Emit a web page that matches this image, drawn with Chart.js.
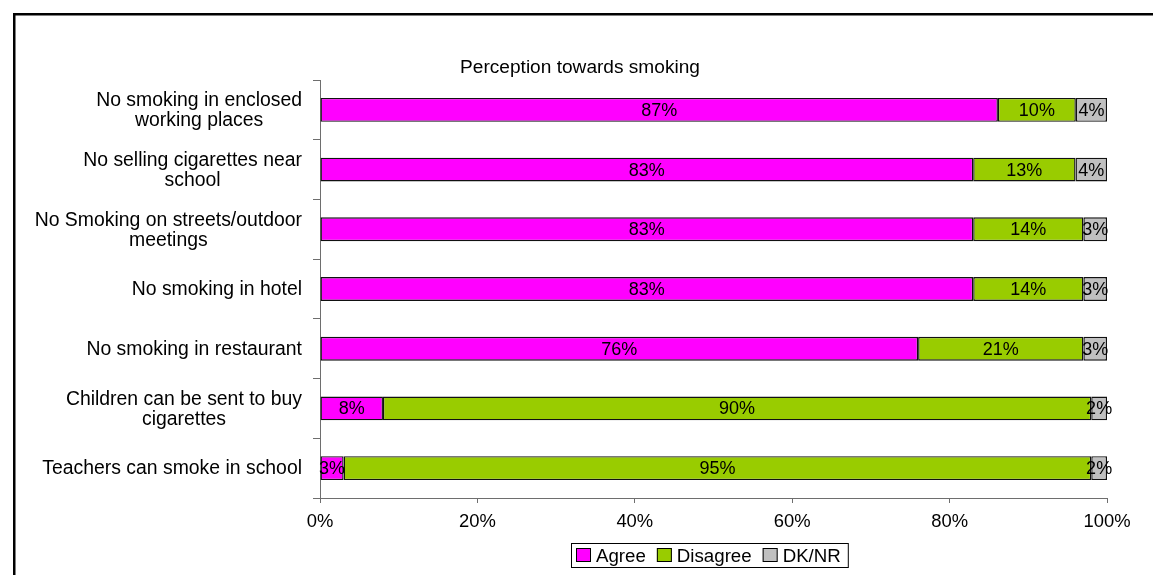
<!DOCTYPE html>
<html>
<head>
<meta charset="utf-8">
<title>Perception towards smoking</title>
<script src="https://cdn.jsdelivr.net/npm/chart.js@4.4.1/dist/chart.umd.min.js"></script>
<style>
  html, body { margin: 0; padding: 0; background: #fff; }
  #wrap { width: 1153px; height: 575px; }
</style>
</head>
<body>
<div id="wrap"><canvas id="chart"></canvas></div>
<script>
// survey answers per statement, in percent
const categories = [
  ["No smoking in enclosed", "working places"],
  ["No selling cigarettes near", "school"],
  ["No Smoking on streets/outdoor", "meetings"],
  ["No smoking in hotel"],
  ["No smoking in restaurant"],
  ["Children can be sent to buy", "cigarettes"],
  ["Teachers can smoke in school"],
];
const agree = [87, 83, 83, 83, 76, 8, 3];
const disagree = [10, 13, 14, 14, 21, 90, 95];
const dkNr = [4, 4, 3, 3, 3, 2, 2];
const seriesNames = ["Agree", "Disagree", "DK/NR"];
const seriesColors = ["#FF00FF", "#99CC00", "#C0C0C0"];
const xTicks = [0, 20, 40, 60, 80, 100];
const chartTitle = "Perception towards smoking";

const FONT = "'Liberation Sans', Arial, sans-serif";
const AXIS_COLOR = "#6e6e6e";

// bars are 100% stacked, so each row is scaled to its own total
const totals = agree.map((v, i) => v + disagree[i] + dkNr[i]);
const share = (arr) => arr.map((v, i) => (v / totals[i]) * 100);

const rawValues = [agree, disagree, dkNr];

const decorations = {
  id: "decorations",
  beforeDraw(chart) {
    const ctx = chart.ctx;
    ctx.save();
    ctx.fillStyle = "#fff";
    ctx.fillRect(0, 0, chart.width, chart.height);
    // outer frame (runs off the right and bottom edges)
    ctx.strokeStyle = "#000";
    ctx.lineWidth = 2.5;
    ctx.strokeRect(14.25, 14.25, chart.width + 20, chart.height + 20);
    ctx.restore();
  },
  afterDatasetsDraw(chart) {
    const ctx = chart.ctx;
    ctx.save();
    ctx.font = "18px " + FONT;
    ctx.fillStyle = "#000";
    ctx.textAlign = "center";
    ctx.textBaseline = "middle";
    chart.data.datasets.forEach((ds, d) => {
      const meta = chart.getDatasetMeta(d);
      meta.data.forEach((bar, i) => {
        const x = (bar.x + bar.base) / 2;
        ctx.fillText(rawValues[d][i] + "%", x, bar.y + 1);
      });
    });
    ctx.restore();
  },
  afterDraw(chart) {
    const ctx = chart.ctx;
    const yScale = chart.scales.y;
    ctx.save();
    ctx.fillStyle = "#000";
    ctx.textBaseline = "middle";

    // category labels: block right-aligned to the axis, lines centred
    ctx.font = "19.4px " + FONT;
    ctx.textAlign = "center";
    const rightEdge = yScale.right - 18;
    categories.forEach((lines, i) => {
      const yc = yScale.getPixelForValue(i);
      const w = Math.max(...lines.map((l) => ctx.measureText(l).width));
      const cx = rightEdge - w / 2;
      lines.forEach((line, j) => {
        ctx.fillText(line, cx, yc + (j - (lines.length - 1) / 2) * 20 + 1);
      });
    });

    // title
    ctx.font = "19.1px " + FONT;
    ctx.fillText(chartTitle, 580, 68);

    // legend with a box around it
    ctx.font = "18.7px " + FONT;
    ctx.textAlign = "left";
    const box = 15, gapText = 5, gapItem = 11, padL = 5, padR = 7;
    const widths = seriesNames.map((n) => ctx.measureText(n).width);
    const total = padL + padR + widths.reduce((a, w) => a + box + gapText + w, 0) + gapItem * (seriesNames.length - 1);
    const area = chart.chartArea;
    let lx = Math.round((area.left + area.right) / 2 - total / 2) - 4;
    const top = 543, h = 24;
    ctx.strokeStyle = "#000";
    ctx.lineWidth = 1;
    ctx.strokeRect(lx + 0.5, top + 0.5, total, h);
    let x = lx + padL;
    const cy = top + h / 2 + 0.5;
    seriesNames.forEach((name, k) => {
      ctx.fillStyle = seriesColors[k];
      ctx.fillRect(x, cy - box / 2, box, box - 1);
      ctx.strokeStyle = "#000";
      ctx.strokeRect(x + 0.5, cy - box / 2 + 0.5, box - 1, box - 2);
      ctx.fillStyle = "#000";
      ctx.fillText(name, x + box + gapText, cy + 1);
      x += box + gapText + widths[k] + gapItem;
    });
    ctx.restore();
  },
};

const datasets = [agree, disagree, dkNr].map((arr, k) => ({
  label: seriesNames[k],
  data: share(arr),
  backgroundColor: seriesColors[k],
  borderColor: "#111",
  borderWidth: 1.4,
  borderSkipped: false,
  barPercentage: 0.4,
  categoryPercentage: 1,
}));

new Chart(document.getElementById("chart"), {
  type: "bar",
  data: {
    labels: categories.map((c) => c.join(" ")),
    datasets: datasets,
  },
  options: {
    indexAxis: "y",
    responsive: true,
    maintainAspectRatio: false,
    animation: false,
    layout: { padding: { top: 80, right: 46, left: 0, bottom: 0 } },
    plugins: {
      legend: { display: false },
      title: { display: false },
      tooltip: { enabled: false },
    },
    scales: {
      x: {
        type: "linear",
        stacked: true,
        min: 0,
        max: 100,
        afterBuildTicks: (scale) => {
          scale.ticks = xTicks.map((v) => ({ value: v }));
        },
        afterFit: (scale) => {
          scale.height = 77;
        },
        grid: {
          drawOnChartArea: false,
          drawTicks: true,
          tickLength: 5,
          color: AXIS_COLOR,
        },
        border: { display: true, color: AXIS_COLOR, width: 1 },
        ticks: {
          padding: 8,
          color: "#000",
          font: { family: FONT, size: 18.4 },
          callback: (v) => v + "%",
          maxRotation: 0,
        },
      },
      y: {
        type: "category",
        stacked: true,
        afterFit: (scale) => {
          scale.width = 320;
        },
        grid: {
          offset: true,
          drawOnChartArea: false,
          drawTicks: true,
          tickLength: 7,
          color: AXIS_COLOR,
        },
        border: { display: true, color: AXIS_COLOR, width: 1 },
        ticks: { display: false },
      },
    },
  },
  plugins: [decorations],
});
</script>
</body>
</html>
